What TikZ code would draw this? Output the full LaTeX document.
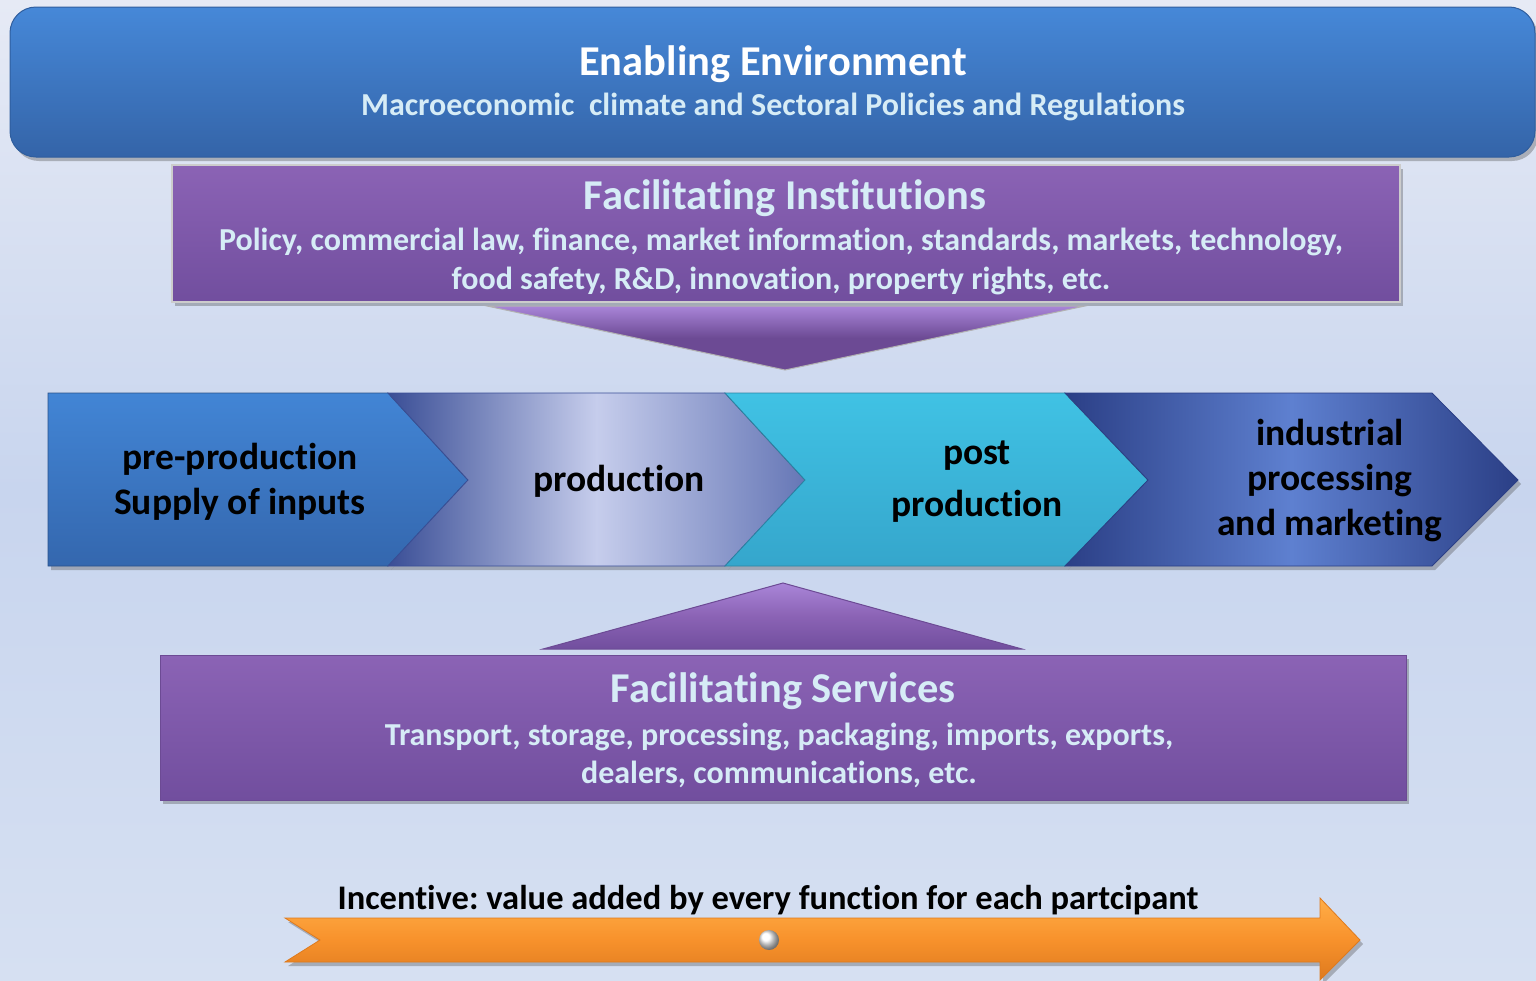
\documentclass[tikz,border=0pt]{standalone}
\usepackage{fontspec}
\setmainfont{Carlito}[Ligatures=NoCommon]
\usetikzlibrary{shadows}
\frenchspacing
\definecolor{bgtop}{HTML}{E6EAF5}
\definecolor{bgmid}{HTML}{C8D5EE}
\definecolor{bgbot}{HTML}{D6E0F2}
\definecolor{envtop}{HTML}{4688D8}
\definecolor{envbot}{HTML}{3464A8}
\definecolor{envline}{HTML}{2F5E9E}
\definecolor{subtxt}{HTML}{D6ECF6}
\definecolor{purtop}{HTML}{8B63B5}
\definecolor{purbot}{HTML}{714E9E}
\definecolor{purdark}{HTML}{6C4A94}
\definecolor{purlight}{HTML}{A985D8}
\definecolor{c1top}{HTML}{4285D5}
\definecolor{c1bot}{HTML}{3467AE}
\definecolor{c2dark}{HTML}{3A4E96}
\definecolor{c2light}{HTML}{C6CDEC}
\definecolor{c2right}{HTML}{6677B6}
\definecolor{c3top}{HTML}{40C2E4}
\definecolor{c3bot}{HTML}{35A6CC}
\definecolor{c4dark}{HTML}{2B3F86}
\definecolor{c4mid}{HTML}{5E80D0}
\definecolor{ortop}{HTML}{FFAE48}
\definecolor{ormid}{HTML}{F8922C}
\definecolor{orbot}{HTML}{DE7A1E}
\tikzset{
  shad/.style={drop shadow={shadow xshift=3pt,shadow yshift=-4pt,opacity=0.35,fill=black!70}},
  whitetitle/.style={font=\bfseries\fontsize{42.5}{48}\selectfont,text=white},
  paletitle/.style={font=\bfseries\fontsize{42.5}{48}\selectfont,text=subtxt},
  paletext/.style={font=\bfseries\fontsize{32}{39}\selectfont,text=subtxt,align=center},
  chevtext/.style={font=\bfseries\fontsize{37.5}{45}\selectfont,text=black,align=center},
  inctext/.style={font=\bfseries\fontsize{34.5}{40}\selectfont,text=black},
}
\begin{document}
\begin{tikzpicture}[x=1pt,y=-1pt]
% background
\shade[top color=bgtop,bottom color=bgbot,middle color=bgmid] (0,0) rectangle (1536,980);
\useasboundingbox (0,0) rectangle (1536,980);

% Enabling environment
\shade[shad,top color=envtop,bottom color=envbot,rounded corners=26pt,draw=envline,line width=1pt]
  (10,7) rectangle (1535,157);
\node[whitetitle] (envtitle) at (773,64) {Enabling Environment};
\node[paletext] (envsub) at (773,107) {Macroeconomic\ \ climate and Sectoral Policies and Regulations};

% Facilitating institutions
\shade[shad,top color=purtop,bottom color=purbot,draw=gray!40,line width=1.5pt]
  (172,165) rectangle (1400,302);
\node[paletitle] (insttitle) at (785,198) {Facilitating Institutions};
\node[paletext] (insttext) at (781,261) {Policy, commercial law, finance, market information, standards, markets, technology,\\food safety, R\&D, innovation, property rights, etc.};

% down triangle
\shade[top color=purlight,bottom color=purdark,middle color=purdark,draw=gray!60,line width=1pt]
  (487,306) -- (1085,306) -- (785,370) -- cycle;

% chevrons
\shade[shad,top color=c1top,bottom color=c1bot,draw=c1bot!80!black,line width=0.8pt]
  (48,393) -- (388,393) -- (468,480) -- (388,566) -- (48,566) -- cycle;
\shade[shad,left color=c2dark,right color=c2right,middle color=c2light,draw=c2dark,line width=0.8pt]
  (388,393) -- (725,393) -- (805,480) -- (725,566) -- (388,566) -- (468,480) -- cycle;
\shade[shad,top color=c3top,bottom color=c3bot,draw=c3bot!80!black,line width=0.8pt]
  (725,393) -- (1065,393) -- (1148,480) -- (1065,566) -- (725,566) -- (805,480) -- cycle;
\shade[shad,left color=c4dark,right color=c4dark,middle color=c4mid,draw=c4dark,line width=0.8pt]
  (1065,393) -- (1432,393) -- (1518,480) -- (1432,566) -- (1065,566) -- (1148,480) -- cycle;
\node[chevtext] (pre) at (240,482) {pre-production\\Supply of inputs};
\node[chevtext] (prod) at (619,481) {production};
\node[chevtext,font=\bfseries\fontsize{37.5}{52}\selectfont] (post) at (977,482) {post\\production};
\node[chevtext] (ind) at (1330,481) {industrial\\processing\\and marketing};

% up triangle
\shade[top color=purlight,bottom color=purbot,middle color=purtop,draw=purdark,line width=1pt]
  (543,649) -- (783,583) -- (1022,649) -- cycle;

% Facilitating services
\shade[shad,top color=purtop,bottom color=purbot,draw=purdark,line width=1pt]
  (160,655) rectangle (1406,800);
\node[paletitle] (servtitle) at (783,691) {Facilitating Services};
\node[paletext,font=\bfseries\fontsize{32}{38}\selectfont] (servtext) at (779,755) {Transport, storage, processing, packaging, imports, exports,\\dealers, communications, etc.};

% incentive arrow
\shade[shad,top color=ortop,bottom color=orbot,middle color=ormid,draw=orbot,line width=0.8pt]
  (285,918) -- (1320,918) -- (1320,898) -- (1360,940) -- (1320,980) -- (1320,962) -- (285,962) -- (320,940) -- cycle;
\shade[ball color=white] (769,940) circle (10);
\node[inctext] (inc) at (768,900) {Incentive: value added by every function for each partcipant};
\end{tikzpicture}
\end{document}
